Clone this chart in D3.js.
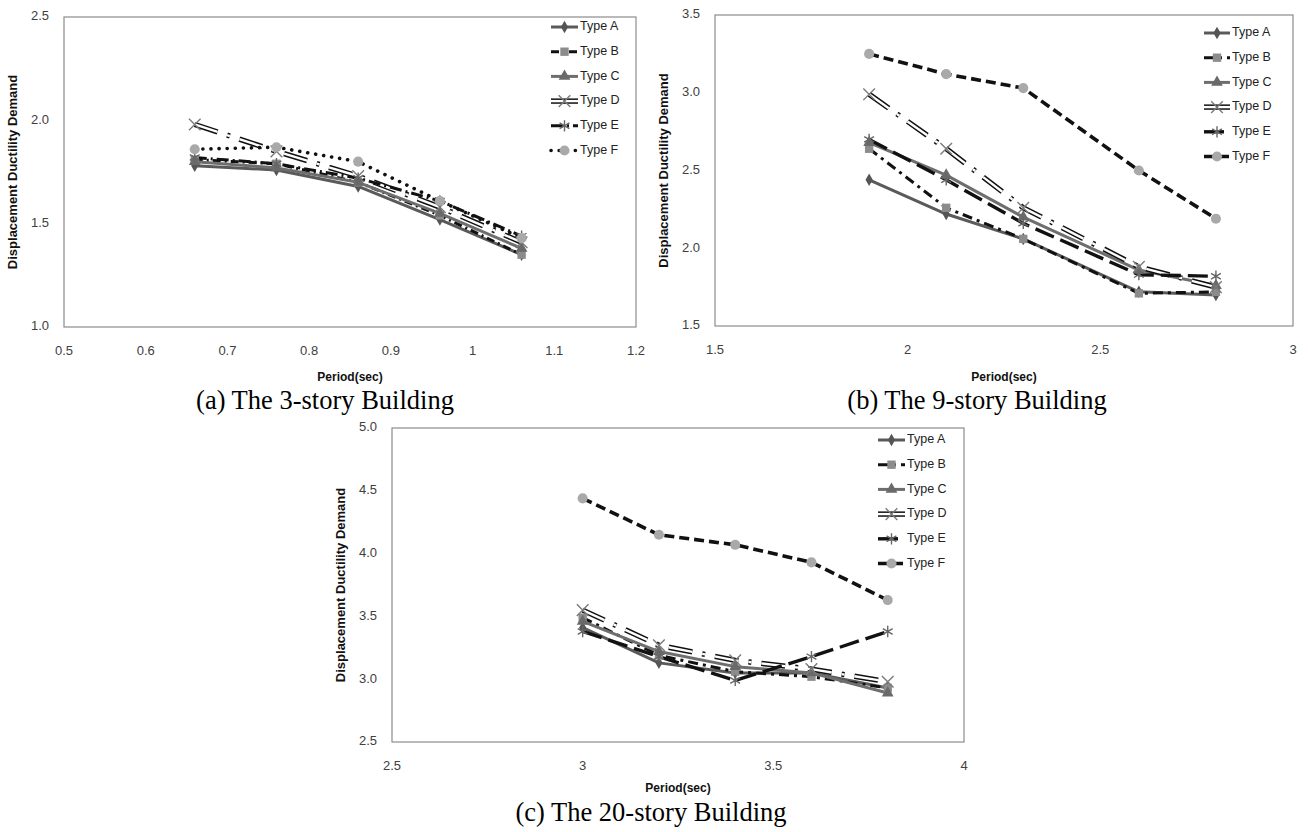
<!DOCTYPE html>
<html>
<head>
<meta charset="utf-8">
<script src="https://cdn.jsdelivr.net/npm/d3@7"></script>
<style>
  body { margin: 0; background: #fff; }
</style>
</head>
<body>
<script>
// ---- data ----
const typeNames = ["Type A", "Type B", "Type C", "Type D", "Type E", "Type F"];
const captions = ["(a) The 3-story Building", "(b) The 9-story Building", "(c) The 20-story Building"];

const period3 = [0.66, 0.76, 0.86, 0.96, 1.06];
const demand3 = [
  [1.78, 1.76, 1.68, 1.52, 1.35],   // A
  [1.81, 1.79, 1.70, 1.54, 1.35],   // B
  [1.80, 1.77, 1.70, 1.55, 1.38],   // C
  [1.98, 1.85, 1.73, 1.58, 1.41],   // D
  [1.82, 1.79, 1.72, 1.61, 1.44],   // E
  [1.86, 1.87, 1.80, 1.61, 1.43]    // F
];
const xTicks3 = ["0.5", "0.6", "0.7", "0.8", "0.9", "1", "1.1", "1.2"];
const yTicks3 = ["1.0", "1.5", "2.0", "2.5"];

const period9 = [1.9, 2.1, 2.3, 2.6, 2.8];
const demand9 = [
  [2.44, 2.22, 2.06, 1.72, 1.70],
  [2.64, 2.26, 2.06, 1.71, 1.72],
  [2.68, 2.47, 2.20, 1.86, 1.76],
  [2.99, 2.64, 2.26, 1.88, 1.75],
  [2.70, 2.44, 2.16, 1.83, 1.82],
  [3.25, 3.12, 3.03, 2.50, 2.19]
];
const xTicks9 = ["1.5", "2", "2.5", "3"];
const yTicks9 = ["1.5", "2.0", "2.5", "3.0", "3.5"];

const period20 = [3.0, 3.2, 3.4, 3.6, 3.8];
const demand20 = [
  [3.41, 3.13, 3.05, 3.05, 2.93],
  [3.49, 3.19, 3.06, 3.02, 2.93],
  [3.46, 3.22, 3.10, 3.05, 2.89],
  [3.55, 3.27, 3.15, 3.08, 2.98],
  [3.38, 3.18, 2.99, 3.18, 3.38],
  [4.44, 4.15, 4.07, 3.93, 3.63]
];
const xTicks20 = ["2.5", "3", "3.5", "4"];
const yTicks20 = ["2.5", "3.0", "3.5", "4.0", "4.5", "5.0"];

// ---- styles ----
const markers = [
  { type: d3.symbolDiamond, size: 45, fill: "#555" },
  { type: d3.symbolSquare, size: 70, fill: "#8c8c8c" },
  { type: d3.symbolTriangle, size: 60, fill: "#6a6a6a" },
  { type: d3.symbolX, size: 90, stroke: "#7a7a7a" },
  { type: d3.symbolAsterisk, size: 90, stroke: "#666" },
  { type: d3.symbolCircle, size: 80, fill: "#a9a9a9" }
];

const linesA = [
  { stroke: "#5a5a5a", w: 3 },
  { stroke: "#111", w: 3, dash: "8,4,2,4" },
  { stroke: "#6e6e6e", w: 3 },
  { double: true, dash: "24,10,3,10" },
  { stroke: "#111", w: 3, dash: "12,4,2,4" },
  { stroke: "#111", w: 3.6, dash: "0.1,8", cap: "round" }
];
const linesBC = [
  { stroke: "#5a5a5a", w: 3 },
  { stroke: "#111", w: 3, dash: "10,5,3,5" },
  { stroke: "#6e6e6e", w: 3 },
  { double: true, dash: "24,10,3,10" },
  { stroke: "#111", w: 3.4, dash: "20,7" },
  { stroke: "#111", w: 3.6, dash: "10,5" }
];

const panels = [
  { period: period3, demand: demand3, xTicks: xTicks3, yTicks: yTicks3, lines: linesA,
    left: 64, right: 636, top: 17, bottom: 327, legX: 551, legY: 27, legW: 27,
    titleGap: 51, capX: 325, capY: 403, caption: captions[0] },
  { period: period9, demand: demand9, xTicks: xTicks9, yTicks: yTicks9, lines: linesBC,
    left: 715, right: 1293, top: 15, bottom: 326, legX: 1204, legY: 33, legW: 26,
    titleGap: 52, capX: 977, capY: 403, caption: captions[1] },
  { period: period20, demand: demand20, xTicks: xTicks20, yTicks: yTicks20, lines: linesBC,
    left: 392, right: 964, top: 428, bottom: 742, legX: 878, legY: 440, legW: 27,
    titleGap: 47, capX: 651, capY: 815, caption: captions[2] }
];

const svg = d3.select("body").append("svg")
  .attr("width", 1308)
  .attr("height", 832)
  .style("font-family", "'Liberation Sans Narrow', 'Liberation Sans', Arial, sans-serif");

const styleLine = (sel, st, under) => {
  if (st.double) {
    sel.attr("stroke", under ? "#111" : "#fff")
      .attr("stroke-width", under ? 5.4 : 2.4)
      .attr("stroke-dasharray", st.dash);
  } else {
    sel.attr("stroke", st.stroke)
      .attr("stroke-width", st.w)
      .attr("stroke-dasharray", st.dash || null)
      .attr("stroke-linecap", st.cap || "butt");
  }
  sel.attr("fill", "none").attr("stroke-linejoin", "round");
};

const drawMarker = (g, m, x, y) => {
  g.append("path")
    .attr("d", d3.symbol().type(m.type).size(m.size)())
    .attr("transform", `translate(${x},${y})`)
    .attr("fill", m.fill || "none")
    .attr("stroke", m.stroke || "none")
    .attr("stroke-width", m.stroke ? 1.4 : 0);
};

panels.forEach(p => {
  const xNum = p.xTicks.map(Number);
  const yNum = p.yTicks.map(Number);
  const x = d3.scaleLinear().domain(d3.extent(xNum)).range([p.left, p.right]);
  const y = d3.scaleLinear().domain(d3.extent(yNum)).range([p.bottom, p.top]);
  const g = svg.append("g");

  // plot frame
  g.append("rect")
    .attr("x", p.left).attr("y", p.top)
    .attr("width", p.right - p.left).attr("height", p.bottom - p.top)
    .attr("fill", "none").attr("stroke", "#8c8c8c").attr("stroke-width", 1.2);

  // tick labels
  g.selectAll(".xt").data(p.xTicks).join("text")
    .attr("x", d => x(+d)).attr("y", p.bottom + 25)
    .attr("text-anchor", "middle").attr("dominant-baseline", "middle")
    .attr("font-size", 13).attr("fill", "#404040")
    .text(d => d);
  g.selectAll(".yt").data(p.yTicks).join("text")
    .attr("x", p.left - 15).attr("y", d => y(+d))
    .attr("text-anchor", "end").attr("dominant-baseline", "middle")
    .attr("font-size", 13).attr("fill", "#404040")
    .text(d => d);

  // axis titles
  g.append("text")
    .attr("x", (p.left + p.right) / 2).attr("y", p.bottom + p.titleGap)
    .attr("text-anchor", "middle").attr("dominant-baseline", "middle")
    .attr("font-family", "'Liberation Sans', Arial, sans-serif")
    .attr("font-weight", "bold").attr("font-size", 12).attr("fill", "#111")
    .text("Period(sec)");
  g.append("text")
    .attr("transform", `translate(${p.left - 50},${(p.top + p.bottom) / 2}) rotate(-90)`)
    .attr("text-anchor", "middle").attr("dominant-baseline", "middle")
    .attr("font-family", "'Liberation Sans', Arial, sans-serif")
    .attr("font-weight", "bold").attr("font-size", 13).attr("fill", "#111")
    .text("Displacement Ductility Demand");

  // series
  const line = d3.line().x(d => x(d[0])).y(d => y(d[1]));
  p.demand.forEach((vals, i) => {
    const pts = vals.map((v, j) => [p.period[j], v]);
    const st = p.lines[i];
    if (st.double) g.append("path").datum(pts).attr("d", line).call(styleLine, st, true);
    g.append("path").datum(pts).attr("d", line).call(styleLine, st, false);
  });
  p.demand.forEach((vals, i) => {
    vals.forEach((v, j) => drawMarker(g, markers[i], x(p.period[j]), y(v)));
  });

  // legend
  typeNames.forEach((name, i) => {
    const ly = p.legY + i * 24.7;
    const st = p.lines[i];
    const seg = [[p.legX, ly], [p.legX + p.legW, ly]];
    const ll = d3.line();
    if (st.double) g.append("path").attr("d", ll(seg)).call(styleLine, { double: true, dash: null }, true);
    g.append("path").attr("d", ll(seg)).call(styleLine, st.double ? { double: true, dash: null } : st, false);
    drawMarker(g, markers[i], p.legX + p.legW / 2, ly);
    g.append("text")
      .attr("x", p.legX + p.legW + 2).attr("y", ly)
      .attr("dominant-baseline", "middle")
      .attr("font-size", 12.5).attr("fill", "#222")
      .text(name);
  });

  // caption
  svg.append("text")
    .attr("x", p.capX).attr("y", p.capY)
    .attr("text-anchor", "middle").attr("dominant-baseline", "middle")
    .attr("font-family", "'Liberation Serif', 'Times New Roman', serif")
    .attr("font-size", 26.5).attr("fill", "#000")
    .text(p.caption);
});
</script>
</body>
</html>
